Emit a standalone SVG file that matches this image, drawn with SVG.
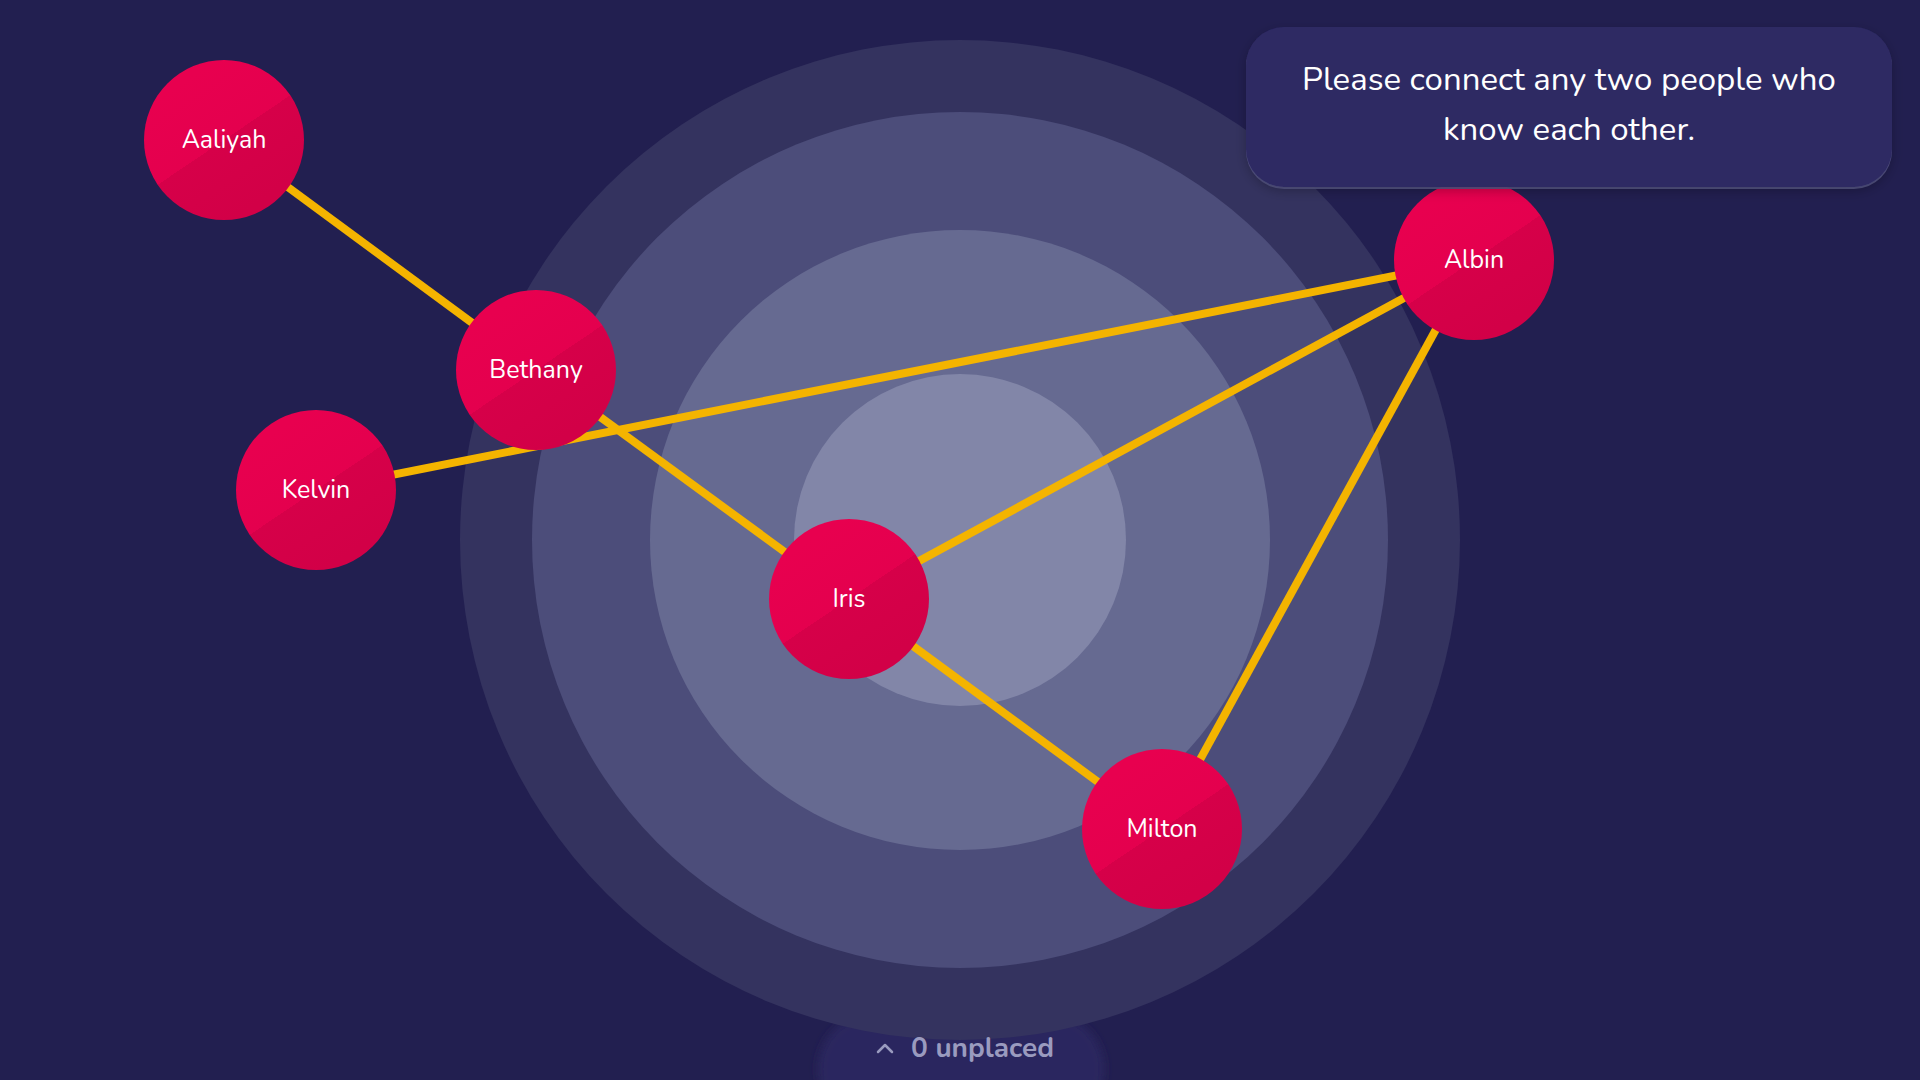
<svg xmlns="http://www.w3.org/2000/svg" width="1920" height="1080" viewBox="0 0 1920 1080">
<style>
.node-text{font-family:"Nunito","Lato","Noto Sans",sans-serif;font-size:25px;fill:#ffffff;text-anchor:middle;dominant-baseline:central}
.edge{stroke:#f4b400;stroke-width:8;stroke-linecap:butt}
.hint{font-family:"Nunito","Lato","Noto Sans",sans-serif;font-size:33px;fill:#ffffff;text-anchor:middle}
</style>
<defs>
<linearGradient id="ng" x1="0.25" y1="0.13" x2="0.75" y2="0.87">
<stop offset="0" stop-color="#e8004f"/>
<stop offset="0.5" stop-color="#e4004e"/>
<stop offset="0.5" stop-color="#d60049"/>
<stop offset="1" stop-color="#d20047"/>
</linearGradient>
<filter id="sh" x="-10%" y="-10%" width="120%" height="130%">
<feDropShadow dx="0" dy="4" stdDeviation="6" flood-color="#000" flood-opacity="0.25"/>
</filter>
<filter id="blur" x="-10%" y="-30%" width="120%" height="160%">
<feGaussianBlur stdDeviation="4"/>
</filter>
</defs>
<rect width="1920" height="1080" fill="#221f50"/>
<rect x="818" y="1014" width="286" height="110" rx="55" fill="#2a275f" filter="url(#blur)"/>
<g id="rings">
<circle cx="960" cy="540" r="500" fill="#34335f"/>
<circle cx="960" cy="540" r="428" fill="#4c4d7a"/>
<circle cx="960" cy="540" r="310" fill="#666a91"/>
<circle cx="960" cy="540" r="166" fill="#8286a8"/>
</g>
<g id="connectors">
<line class="edge" x1="224" y1="140" x2="536" y2="370"/>
<line class="edge" x1="536" y1="370" x2="849" y2="599"/>
<line class="edge" x1="316" y1="490" x2="1474" y2="260"/>
<line class="edge" x1="849" y1="599" x2="1474" y2="260"/>
<line class="edge" x1="849" y1="599" x2="1162" y2="829"/>
<line class="edge" x1="1162" y1="829" x2="1474" y2="260"/>
</g>
<g id="node-aaliyah"><circle cx="224" cy="140" r="80" fill="url(#ng)"/><text class="node-text" x="224" y="140">Aaliyah</text></g>
<g id="node-bethany"><circle cx="536" cy="370" r="80" fill="url(#ng)"/><text class="node-text" x="536" y="370">Bethany</text></g>
<g id="node-kelvin"><circle cx="316" cy="490" r="80" fill="url(#ng)"/><text class="node-text" x="316" y="490">Kelvin</text></g>
<g id="node-iris"><circle cx="849" cy="599" r="80" fill="url(#ng)"/><text class="node-text" x="849" y="599">Iris</text></g>
<g id="node-milton"><circle cx="1162" cy="829" r="80" fill="url(#ng)"/><text class="node-text" x="1162" y="829">Milton</text></g>
<g id="node-albin"><circle cx="1474" cy="260" r="80" fill="url(#ng)"/><text class="node-text" x="1474" y="260">Albin</text></g>
<g id="hint">
<rect x="1246" y="29" width="646" height="160" rx="38" fill="#5b5b8c" opacity="0.9"/>
<rect x="1246" y="27" width="646" height="160" rx="38" fill="#2e2a63" filter="url(#sh)"/>
<text class="hint" x="1569" y="90">Please connect any two people who</text>
<text class="hint" x="1569" y="140">know each other.</text>
</g>
<g id="unplaced">
<path d="M878 1052 L885 1045 L892 1052" fill="none" stroke="#9a9bbf" stroke-width="2.5" stroke-linecap="round" stroke-linejoin="round"/>
<text x="911" y="1057" font-family="Nunito,Lato,'Noto Sans',sans-serif" font-size="28" font-weight="bold" fill="#9a9bbf">0 unplaced</text>
</g>
</svg>
